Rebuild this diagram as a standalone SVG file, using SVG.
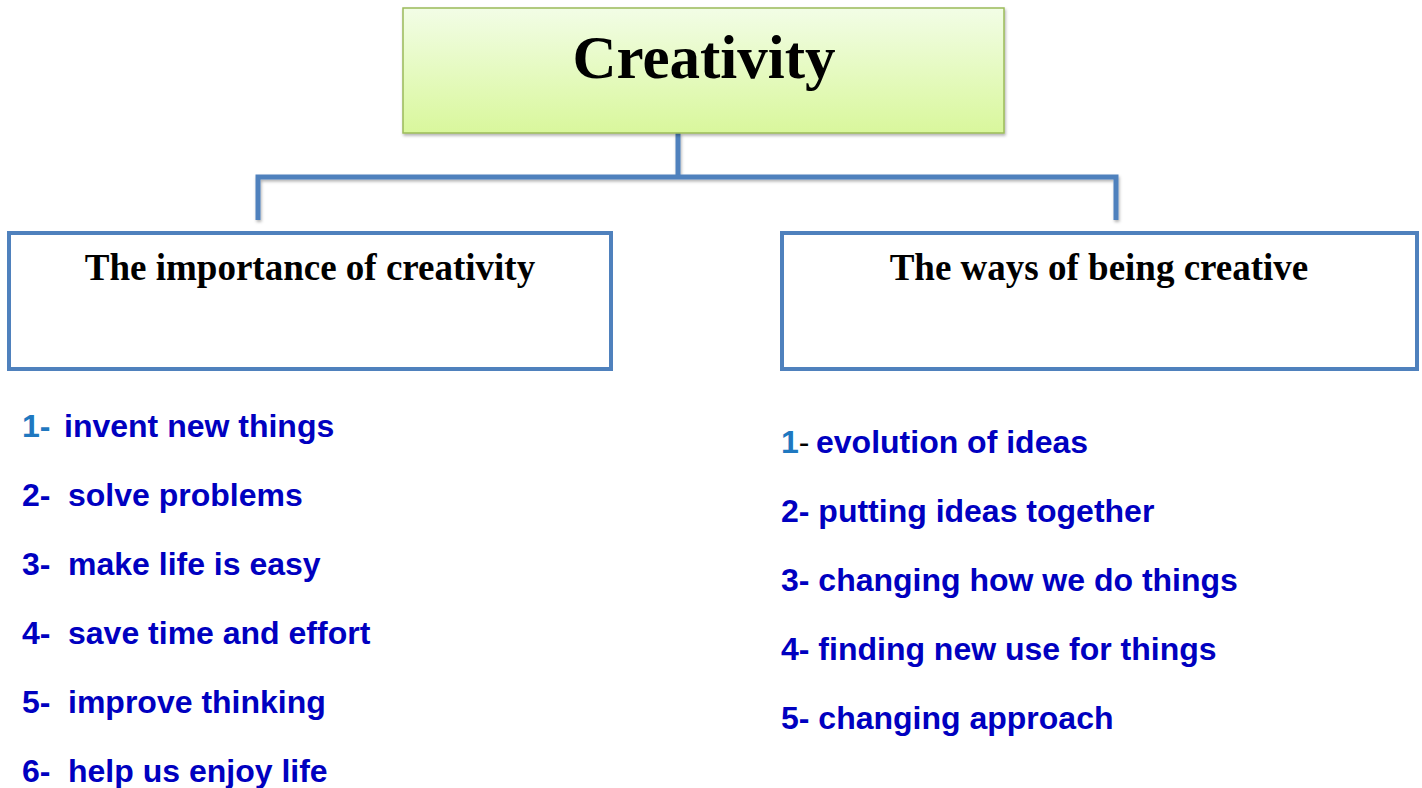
<svg xmlns="http://www.w3.org/2000/svg" width="1422" height="788" viewBox="0 0 1422 788">
<defs>
<linearGradient id="g" x1="0" y1="0" x2="0" y2="1">
<stop offset="0" stop-color="#f2fde6"/>
<stop offset="1" stop-color="#d9f79c"/>
</linearGradient>
<filter id="sh" x="-5%" y="-5%" width="110%" height="120%">
<feDropShadow dx="1" dy="2" stdDeviation="1.5" flood-color="#000" flood-opacity="0.3"/>
</filter>
<style>
.hd{font-family:"Liberation Serif",serif;font-weight:bold;fill:#000;text-anchor:middle}
.it{font-family:"Liberation Sans",Arial,sans-serif;font-weight:bold;font-size:32px;fill:#0000c0}
.box{fill:#fff;stroke:#4f81bd;stroke-width:4}
.con{fill:none;stroke:#4f81bd;stroke-width:5}
</style>
</defs>
<rect width="1422" height="788" fill="#fff"/>
<g id="connectors" filter="url(#sh)">
<path class="con" d="M678 133 V177"/>
<path class="con" d="M258 220 V177 H1116 V220"/>
</g>
<g id="root">
<rect x="403" y="8" width="601" height="125" fill="url(#g)" stroke="#9bbb59" stroke-width="1.5" filter="url(#sh)"/>
<text class="hd" x="704" y="78" font-size="61">Creativity</text>
</g>
<g id="importance">
<rect class="box" x="9" y="233" width="602" height="136"/>
<text class="hd" x="310" y="280" font-size="37">The importance of creativity</text>
</g>
<g id="ways">
<rect class="box" x="782" y="233" width="635" height="136"/>
<text class="hd" x="1099" y="280" font-size="37">The ways of being creative</text>
</g>
<g id="importance-list">
<text class="it" x="22" y="437"><tspan fill="#1f78c0">1-</tspan><tspan x="64">invent new things</tspan></text>
<text class="it" x="22" y="506">2-<tspan x="68">solve problems</tspan></text>
<text class="it" x="22" y="575">3-<tspan x="68">make life is easy</tspan></text>
<text class="it" x="22" y="644">4-<tspan x="68">save time and effort</tspan></text>
<text class="it" x="22" y="713">5-<tspan x="68">improve thinking</tspan></text>
<text class="it" x="22" y="782">6-<tspan x="68">help us enjoy life</tspan></text>
</g>
<g id="ways-list">
<text class="it" x="781" y="453"><tspan fill="#1f78c0">1</tspan><tspan fill="#000" font-weight="normal">-</tspan><tspan x="816">evolution of ideas</tspan></text>
<text class="it" x="781" y="522">2- putting ideas together</text>
<text class="it" x="781" y="591">3- changing how we do things</text>
<text class="it" x="781" y="660">4- finding new use for things</text>
<text class="it" x="781" y="729">5- changing approach</text>
</g>
</svg>
